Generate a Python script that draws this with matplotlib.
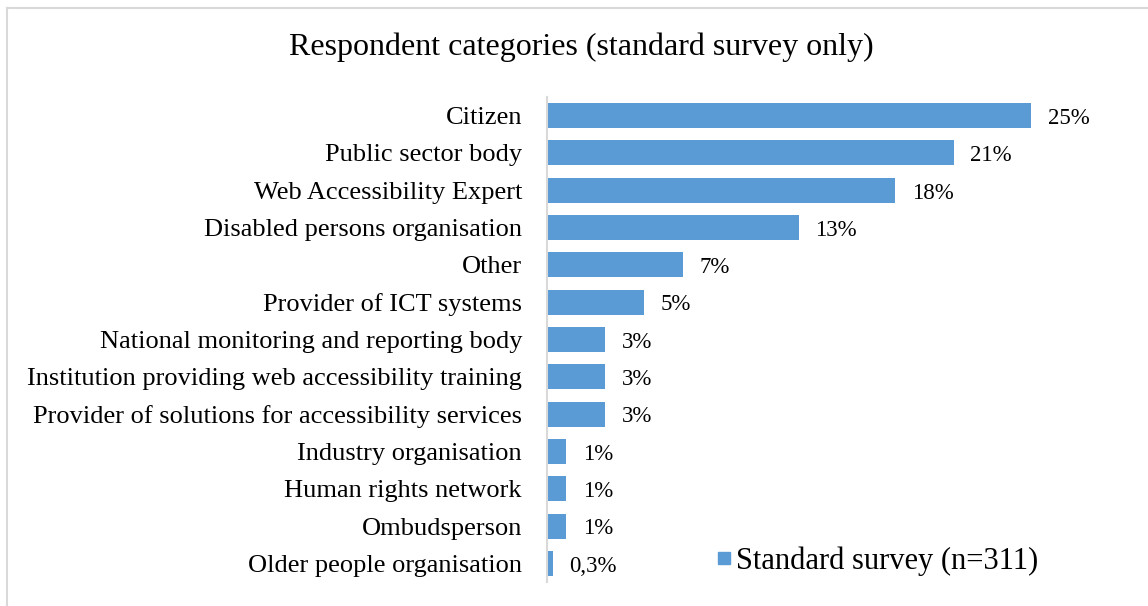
import matplotlib
matplotlib.use("Agg")
import matplotlib.pyplot as plt
from matplotlib.lines import Line2D

# Respondent categories and their shares (%)
categories = [
    "Citizen",
    "Public sector body",
    "Web Accessibility Expert",
    "Disabled persons organisation",
    "Other",
    "Provider of ICT systems",
    "National monitoring and reporting body",
    "Institution providing web accessibility training",
    "Provider of solutions for accessibility services",
    "Industry organisation",
    "Human rights network",
    "Ombudsperson",
    "Older people organisation",
]
shares = [25, 21, 18, 13, 7, 5, 3, 3, 3, 1, 1, 1, 0.3]
share_labels = ["25%", "21%", "18%", "13%", "7%", "5%", "3%", "3%", "3%",
                "1%", "1%", "1%", "0,3%"]
series_name = "Standard survey (n=311)"
title = "Respondent categories (standard survey only)"

plt.rcParams["font.family"] = ["Liberation Serif", "DejaVu Serif"]

W, H = 1148, 606
fig = plt.figure(figsize=(W / 100, H / 100), dpi=100)
fig.patch.set_facecolor("white")

# axes placement in pixels
ax_left, ax_top, ax_bottom = 547, 97, 582
xmax = 28.0
px_per_unit = 484 / 25.0
ax_width = xmax * px_per_unit
ax = fig.add_axes([ax_left / W, 1 - ax_bottom / H, ax_width / W, (ax_bottom - ax_top) / H])

bar_color = "#5B9BD5"
ypos = list(range(len(categories)))
ax.barh(ypos, shares, height=0.67, color=bar_color, label=series_name)

for y, v, lab in zip(ypos, shares, share_labels):
    ax.annotate(lab, xy=(v, y), xytext=(12, -2), textcoords="offset points",
                ha="left", va="center", fontsize=16.5, color="#000000")

ax.set_xlim(0, xmax)
ax.set_ylim(len(categories) - 0.5, -0.5)
ax.set_yticks(ypos)
ax.set_yticklabels(categories, fontsize=19)
ax.tick_params(axis="y", length=0, pad=18)
ax.set_xticks([])
for side in ["top", "right", "bottom"]:
    ax.spines[side].set_visible(False)
ax.spines["left"].set_color("#d9d9d9")
ax.spines["left"].set_linewidth(1.5)

# legend
handle = Line2D([], [], marker="s", linestyle="none", markersize=8,
                markerfacecolor=bar_color, markeredgecolor=bar_color)
fig.legend([handle], [series_name], loc="center left",
           bbox_to_anchor=(701 / W, 1 - 561 / H), frameon=False,
           fontsize=22, handletextpad=0.15, handlelength=0.5, borderpad=0)

fig.text(581 / W, 1 - 47 / H, title, ha="center", va="center", fontsize=23)

# outer frame lines (left and top)
fig.add_artist(Line2D([6.5 / W, 6.5 / W], [0, 1 - 7.5 / H], transform=fig.transFigure,
                      color="#d9d9d9", linewidth=1.5))
fig.add_artist(Line2D([6.5 / W, 1], [1 - 7.5 / H, 1 - 7.5 / H], transform=fig.transFigure,
                      color="#d9d9d9", linewidth=1.5))

fig.savefig("out.png", dpi=100, facecolor="white")
